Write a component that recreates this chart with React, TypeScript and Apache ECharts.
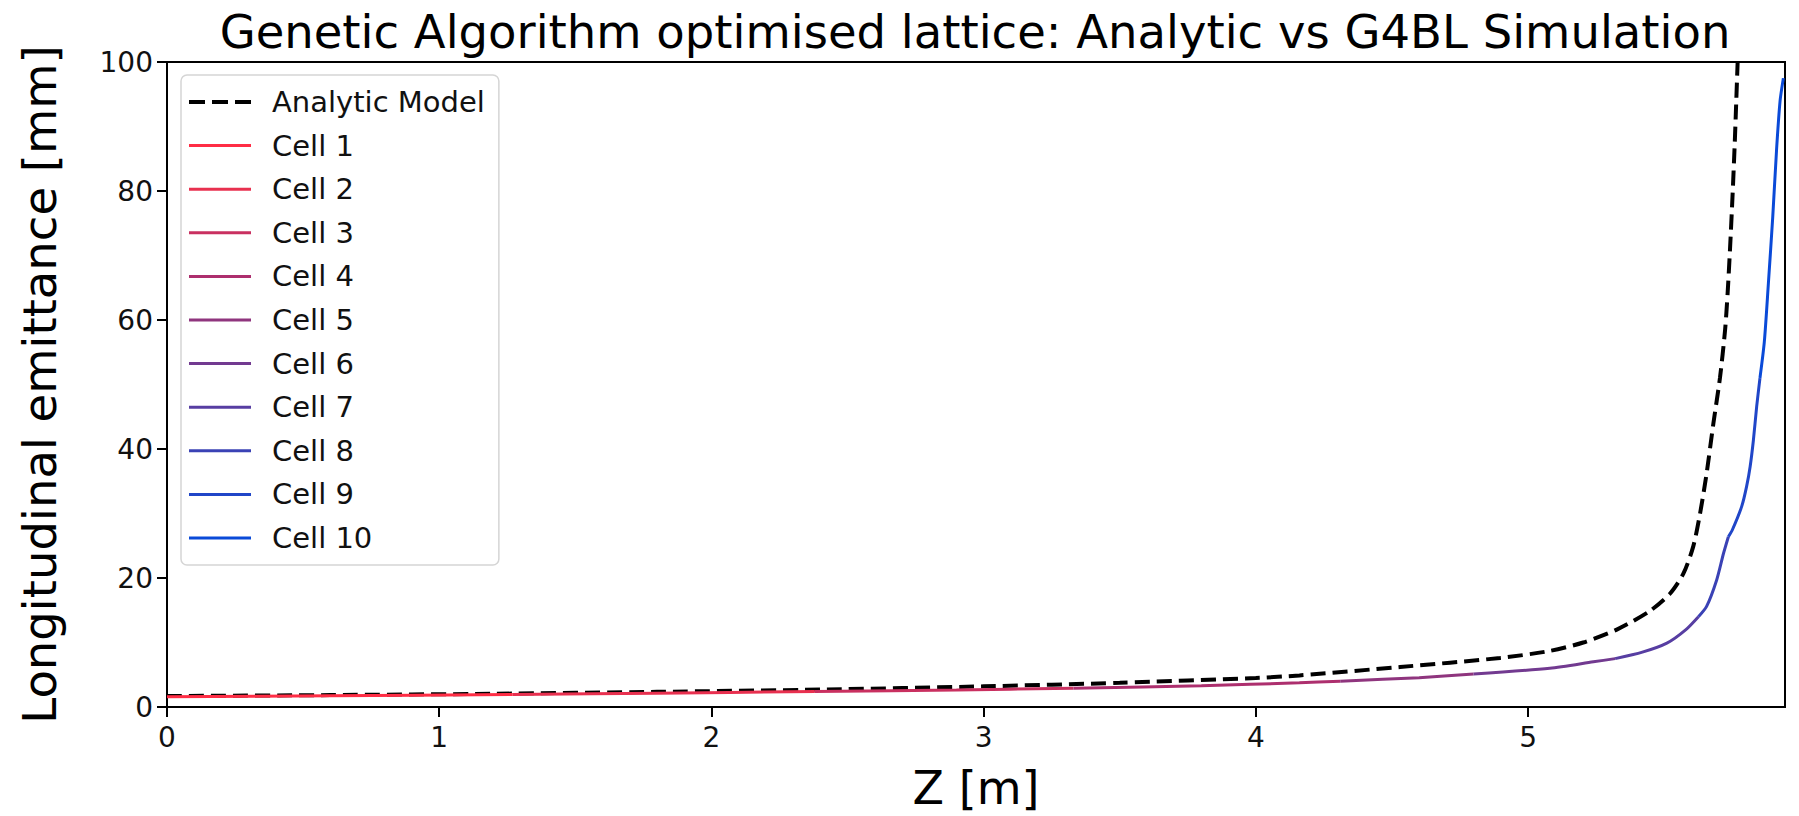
import React, { useEffect, useRef } from "react";
import * as echarts from "echarts";

const FONT = "DejaVu Sans";

const titleText = "Genetic Algorithm optimised lattice: Analytic vs G4BL Simulation";
const xName = "Z [m]";
const yName = "Longitudinal emittance [mm]";

const xTicks = [0, 1, 2, 3, 4, 5];
const yTicks = [0, 20, 40, 60, 80, 100];
const xMax = 5.944;

// Analytic model: emittance growth along the lattice
const analyticZ = [
  0, 0.6, 1.2, 1.8, 2.4, 3.0, 3.5, 4.0, 4.16, 4.53, 4.897, 5.081, 5.203, 5.326,
  5.448, 5.522, 5.571, 5.607, 5.632, 5.656, 5.681, 5.705, 5.724, 5.733, 5.742,
  5.751, 5.759, 5.765, 5.77,
];
const analyticEps = [
  1.7, 1.85, 2.05, 2.35, 2.7, 3.2, 3.75, 4.5, 4.9, 6.2, 7.6, 8.7, 10.0, 12.0,
  14.9, 17.6, 20.7, 24.9, 30.0, 36.2, 44.0, 51.0, 58.5, 64, 71, 79, 87, 94, 100,
];

// G4BL simulation: emittance along the lattice
const simZ = [
  0, 0.6, 1.27, 1.8, 2.38, 2.9, 3.33, 3.8, 4.16, 4.31, 4.6, 4.8, 5.08, 5.24,
  5.32, 5.42, 5.51, 5.58, 5.626, 5.656, 5.693, 5.718, 5.736, 5.75, 5.785, 5.803,
  5.816, 5.828, 5.84, 5.852, 5.868, 5.883, 5.899, 5.913, 5.926, 5.938,
];
const simEps = [
  1.6, 1.75, 1.95, 2.15, 2.4, 2.65, 2.9, 3.3, 3.75, 4.0, 4.55, 5.1, 6.0, 7.0,
  7.5, 8.5, 9.9, 12.0, 14.0, 15.6, 19.7, 23.8, 26.4, 27.4, 31.1, 34.2, 37.3,
  41.4, 46.6, 51.0, 56.6, 65.7, 76, 86.4, 94, 97.5,
];

// Cell boundaries along Z [m]
const cellEdges = [0, 1.27, 2.38, 3.33, 4.31, 4.8, 5.32, 5.626, 5.736, 5.852, 5.938];
const cellNames = [
  "Cell 1", "Cell 2", "Cell 3", "Cell 4", "Cell 5",
  "Cell 6", "Cell 7", "Cell 8", "Cell 9", "Cell 10",
];
const cellColors = [
  "#ff2d45", "#e8304f", "#c93060", "#ad2f6e", "#8f357e",
  "#723a90", "#573ea2", "#3a42b5", "#2046c8", "#0a4ad8",
];

// Legend swatches: a plain stroke and a three-dash stroke
const SOLID_ICON = "path://M0,0H62V3H0Z";
const DASH_ICON = "path://M0,0H16V4H0Z M23,0H39V4H23Z M46,0H62V4H46Z";

function cellData(i: number): number[][] {
  const lo = cellEdges[i] - 1e-9;
  const hi = cellEdges[i + 1] + 1e-9;
  const out: number[][] = [];
  simZ.forEach((z, k) => {
    if (z >= lo && z <= hi) out.push([z, simEps[k]]);
  });
  return out;
}

export default function App() {
  const ref = useRef<HTMLDivElement>(null);

  useEffect(() => {
    if (!ref.current) return;
    const chart = echarts.init(ref.current, null, { renderer: "svg" });

    const series: any[] = [
      {
        type: "line",
        name: "Analytic Model",
        data: analyticZ.map((z, i) => [z, analyticEps[i]]),
        symbol: "none",
        smooth: 0.25,
        lineStyle: { color: "#000", width: 4, type: [15, 7] },
        itemStyle: { color: "#000" },
      },
      ...cellNames.map((name, i) => ({
        type: "line",
        name,
        data: cellData(i),
        symbol: "none",
        smooth: 0.25,
        lineStyle: { color: cellColors[i], width: 3 },
        itemStyle: { color: cellColors[i] },
      })),
    ];

    chart.setOption({
      animation: false,
      backgroundColor: "#fff",
      title: {
        text: titleText,
        left: 970,
        top: 3,
        textAlign: "center",
        textStyle: { fontFamily: FONT, fontSize: 46.5, fontWeight: "normal", color: "#000" },
      },
      grid: {
        left: 167,
        right: 14,
        top: 62,
        bottom: 109,
        show: true,
        borderColor: "#000",
        borderWidth: 2,
        backgroundColor: "transparent",
      },
      legend: {
        orient: "vertical",
        left: 181,
        top: 75,
        padding: [12, 14, 12, 8],
        itemWidth: 62,
        itemHeight: 14,
        itemGap: 13.6,
        selectedMode: false,
        backgroundColor: "rgba(255,255,255,0.8)",
        borderColor: "#d5d5d5",
        borderWidth: 1.5,
        borderRadius: 6,
        itemStyle: { borderWidth: 0 },
        textStyle: {
          fontFamily: FONT,
          fontSize: 29,
          color: "#111",
          lineHeight: 30,
          padding: [0, 0, 0, 16],
        },
        data: [
          { name: "Analytic Model", icon: DASH_ICON },
          ...cellNames.map((n) => ({ name: n, icon: SOLID_ICON })),
        ],
      },
      xAxis: {
        type: "value",
        min: 0,
        max: xMax,
        name: xName,
        nameLocation: "middle",
        nameGap: 58,
        nameTextStyle: { fontFamily: FONT, fontSize: 46, color: "#000" },
        axisLine: { show: true, onZero: false, lineStyle: { color: "#000", width: 2 } },
        axisTick: {
          show: true,
          inside: false,
          length: 10,
          customValues: xTicks,
          lineStyle: { color: "#000", width: 2 },
        },
        axisLabel: {
          customValues: xTicks,
          fontFamily: FONT,
          fontSize: 28,
          color: "#111",
          margin: 16,
        },
        splitLine: { show: false },
      },
      yAxis: {
        type: "value",
        min: 0,
        max: 100,
        interval: 20,
        name: yName,
        nameLocation: "middle",
        nameGap: 104,
        nameRotate: 90,
        nameTextStyle: { fontFamily: FONT, fontSize: 46.5, color: "#000" },
        axisLine: { show: true, onZero: false, lineStyle: { color: "#000", width: 2 } },
        axisTick: {
          show: true,
          inside: false,
          length: 10,
          customValues: yTicks,
          lineStyle: { color: "#000", width: 2 },
        },
        axisLabel: {
          customValues: yTicks,
          fontFamily: FONT,
          fontSize: 28,
          color: "#111",
          margin: 14,
        },
        splitLine: { show: false },
      },
      series,
    });

    return () => chart.dispose();
  }, []);

  return (
    <div
      ref={ref}
      style={{ position: "fixed", left: 0, top: 0, width: 1799, height: 816, background: "#fff" }}
    />
  );
}
